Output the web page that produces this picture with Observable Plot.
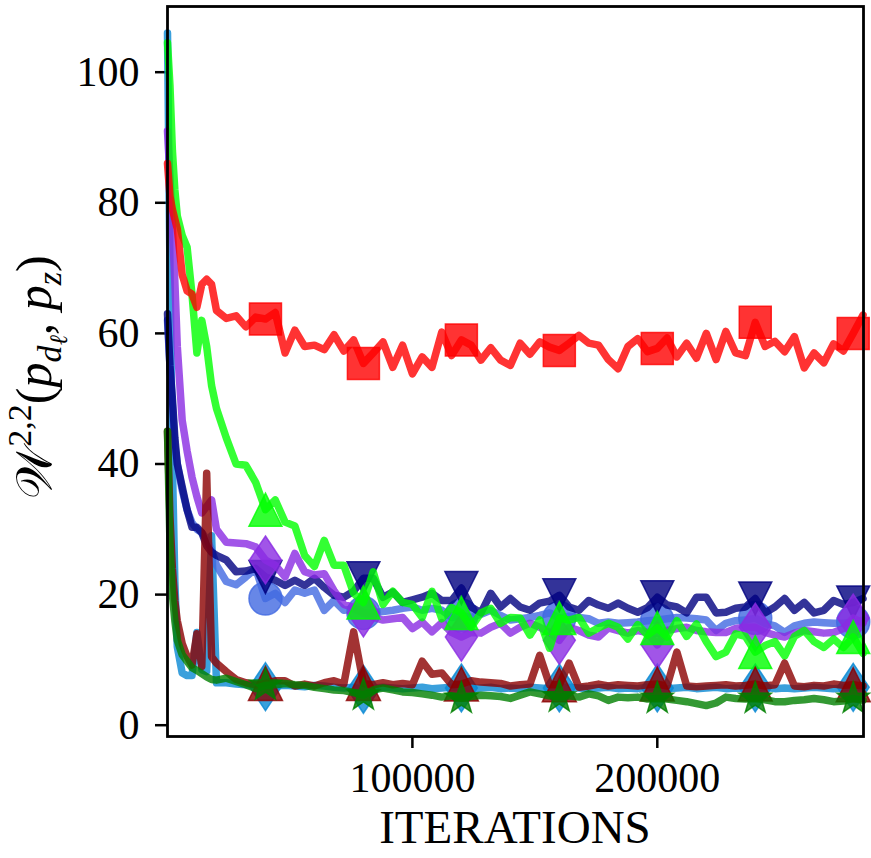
<!DOCTYPE html>
<html><head><meta charset="utf-8">
<script src="https://cdn.jsdelivr.net/npm/d3@7"></script>
<script src="https://cdn.jsdelivr.net/npm/@observablehq/plot@0.6"></script>
<style>
html,body{margin:0;padding:0;background:#fff;}
#chart svg{display:block;}
#chart svg g[aria-label$="axis tick"] path,
#chart svg g[aria-label$="axis"] line{stroke-width:2.5px;stroke:#000;}
</style></head><body><div id="chart"></div>
<script>
const ITERATIONS = [0,1000,2000,3000,4000,6000,8000,10000,12000,14000,16000,18000,20000,
 24000,28000,32000,36000,40000,44000,48000,52000,56000,60000,
 64000,68000,72000,76000,80000,84000,88000,92000,96000,100000,
 104000,108000,112000,116000,120000,124000,128000,132000,136000,140000,
 144000,148000,152000,156000,160000,164000,168000,172000,176000,180000,
 184000,188000,192000,196000,200000,204000,208000,212000,216000,220000,
 224000,228000,232000,236000,240000,244000,248000,252000,256000,260000,
 264000,268000,272000,276000,280000,284000];
const X_TICKS = [100000, 200000];
const Y_TICKS = [0, 20, 40, 60, 80, 100];
const X_LABEL = "ITERATIONS";
const MARKER_EVERY = 40000;

const RED = [86,81,79,77.5,76,69,66.5,66,64,67.5,68.3,67.5,63.5,
 62.3,62.7,61,62.5,62.2,63.2,57,60.5,58,58.2,
 57.5,59.8,57.3,59,55.4,57,58.7,54.8,58.2,53.8,
 56.4,54.8,60.2,56.6,59,58.2,55.9,57.8,55.9,55.1,
 58.5,56.8,58.7,57.9,57.4,58.5,59.7,58.5,58.2,56,
 54.6,58,59.2,57.2,57.7,59.3,56.4,58.5,56.2,60,
 56,60.3,57,56.6,61.7,58,58.8,57.2,59.5,54.7,
 57,55.5,58.4,57.3,60,62.8];
const LIME = [104.5,98,88,82,78,75,73.2,66,57,62,58,52,48.5,
 44,40,39.8,37.2,33,34.5,31.1,30.5,26,24.3,
 28.3,24.5,24.5,20.2,18.8,23.5,18.5,20.5,18.8,18.5,
 16.5,20.5,16.3,18,17.2,15,17.2,17.9,15.6,16.5,
 16.4,13.8,16.1,11.8,16.4,16.1,16.5,14.1,14.9,15.6,
 15,13.2,15.4,13.8,14.9,13.5,16,13.6,15.5,12.8,
 10.5,11.2,14,13.6,11.2,12.2,12.8,10.6,13.6,14.5,
 12.8,11.9,13.2,11.9,13.5,11];
const VIOLET = [91,84,76,68,58,46.7,42,38,35,32.5,33.5,34.5,30,
 28,27.9,27.8,27.3,25.3,24.5,22.7,26.3,23.5,23,
 23.2,20.6,18.5,18,17.2,16.5,16.1,16.3,16.5,14.8,
 15.8,14.3,15.7,14.2,13.5,14.2,14.1,15,15.6,14.1,
 15,15.6,15,14.2,13,15,14.5,13.8,13.5,14.9,
 14.5,14.1,14.5,14.2,12.3,14.5,14.8,15,14.5,14.3,
 14.2,14.2,14.8,15,15,14.2,13.8,13.5,14.1,14.5,
 14.3,14.1,14.2,14.8,16.4,15.6];
const NAVY = [63,55,50,44,40,36.5,33,30.3,30.3,29.5,27.5,26.5,26,
 25.3,23.5,23.6,24,22.7,22.2,21.4,22.2,21.4,22.5,
 21.1,19.9,19.6,20.5,22.5,22.5,19.6,20.4,18.8,19.2,
 19.6,20.2,19.1,19.1,21,18.1,17.2,20.2,18.1,19.4,
 18.1,17.6,18.7,19,19.9,18.1,17.6,19.1,18.4,17.9,
 18.7,17.9,17.3,18,19.6,18.4,18.1,17.2,19.6,19.6,
 17.2,17.3,17.9,18.1,19.4,17.2,18.1,19.4,17.6,18.8,
 17.2,17.6,19.1,18.5,18.8,19.4];
const ROYAL = [62,55,49,43,40,36,33,31,30,29.5,28.5,26.8,24.5,
 22,21.5,22.7,24,19.4,20.2,18.8,20.7,20.2,20.7,
 17.6,19.1,17.6,17.8,17.2,17.2,17.4,17.6,17.9,18.1,
 17.6,17.9,17.6,16.5,16.8,16.5,17,17.6,16.8,16.1,
 16.3,16.5,16.8,17.2,16.4,16.7,16.5,16.3,15.6,15.8,
 15.6,15.7,15.8,16,16.1,16.3,16.5,16.4,16.3,16.1,
 14.5,15.6,16,16.1,16.4,15.6,15.2,14.2,15.2,15.6,
 15.8,15.7,15.6,15.6,15.8,16.1];
const SKY = [106,70,40,22,12,8,7.6,7.6,14.2,8.5,8.2,29,6.5,
 6.5,6.3,6.2,6.1,5.9,6,6.1,6,5.9,6.1,
 6,5.8,5.7,5.8,5.5,5.7,5.8,5.7,5.6,5.7,
 5.8,5.6,5.7,5.8,5.7,5.6,5.7,5.8,5.6,5.7,
 5.6,5.8,5.7,5.6,5.7,5.8,5.7,5.6,5.7,5.8,
 5.6,5.7,5.6,5.8,5.7,5.6,5.7,5.8,5.6,5.7,
 5.8,5.6,5.7,5.6,5.7,5.8,5.6,5.7,5.6,5.7,
 5.8,5.7,5.6,5.7,5.8,5.7];
const MAROON = [45,32,24,19,16,12.5,10.5,9.2,14,9,38.6,10.5,9.5,
 8.2,7,6.5,6.2,6.4,6.8,6.8,6,6.3,6,
 6.5,6.8,6.3,14.3,6.4,6.2,6.5,6.2,6.4,6.2,
 9.8,7.8,8,6.2,6.3,6.8,6.6,6.5,6.4,6,
 6.2,6.3,10.7,6.2,6.2,9.5,5.8,6,6.3,6,
 6.2,6.1,6,6.2,6.3,6,11.2,6,5.9,6,
 6.1,6.2,6,6.1,6.3,6,6.2,9.5,6,5.9,
 6.1,6,6.3,6.1,6.2,6];
const GREEN = [45,28,20,16,13,10.8,9.8,8.8,8.4,7.9,7.4,7,6.9,
 7.2,6.7,6.2,5.6,6.1,6.2,6.4,6.2,6.1,5.8,
 5.6,5.4,5.3,5,4.6,5.4,5.7,5.4,5.1,5,
 4.8,4.6,4.3,4.5,4.1,4.4,4.6,4.5,4.4,4.1,
 4.6,5.1,4.8,4.5,4.3,4.5,4.3,4.8,4.5,3.8,
 4.3,4.2,4.3,4,4.1,4,3.8,3.6,3.3,3,
 3.4,4.3,4.1,4,4.1,3.9,3.6,3.6,3.8,3.9,
 4.1,3.9,3.6,3.7,4.1,3.8];

// marker shapes (custom symbols; r = half extent)
function sym(fn){ return {draw(c, size){ fn(c, Math.sqrt(size / Math.PI)); }}; }
const SQUARE = sym((c,r)=>{c.moveTo(-r,-r);c.lineTo(r,-r);c.lineTo(r,r);c.lineTo(-r,r);c.closePath();});
const TRI_UP = sym((c,r)=>{c.moveTo(0,-r);c.lineTo(r,r);c.lineTo(-r,r);c.closePath();});
const TRI_DOWN = sym((c,r)=>{c.moveTo(0,r);c.lineTo(r,-r);c.lineTo(-r,-r);c.closePath();});
const DIAMOND = sym((c,r)=>{c.moveTo(0,-1.5*r);c.lineTo(r,0);c.lineTo(0,1.5*r);c.lineTo(-r,0);c.closePath();});
const CIRCLE = sym((c,r)=>{c.moveTo(r,0);c.arc(0,0,r,0,2*Math.PI);c.closePath();});
const STAR = sym((c,r)=>{for(let i=0;i<10;i++){const a=-Math.PI/2+i*Math.PI/5;const rr=i%2?r*0.4:r;const px=rr*Math.cos(a),py=rr*Math.sin(a);i?c.lineTo(px,py):c.moveTo(px,py);}c.closePath();});

const SERIES = [
  {values: SKY,    color: "#0988d3", symbol: DIAMOND,  r: 16},
  {values: ROYAL,  color: "#4169e1", symbol: CIRCLE,   r: 16.5},
  {values: NAVY,   color: "#000080", symbol: TRI_DOWN, r: 16.5},
  {values: VIOLET, color: "#8a2be2", symbol: DIAMOND,  r: 16},
  {values: LIME,   color: "#00ff00", symbol: TRI_UP,   r: 16.5},
  {values: RED,    color: "#ff0000", symbol: SQUARE,   r: 16},
  {values: MAROON, color: "#8b0000", symbol: TRI_UP,   r: 17},
  {values: GREEN,  color: "#008000", symbol: STAR,     r: 17}
];

const marks = [];
for (const s of SERIES) {
  const data = ITERATIONS.map((x, i) => ({x, y: s.values[i]}));
  const markers = data.filter(d => d.x > 0 && d.x % MARKER_EVERY === 0);
  marks.push(Plot.line(data, {x: "x", y: "y", stroke: s.color, strokeOpacity: 0.8, strokeWidth: 7.5, strokeLinejoin: "round"}));
  marks.push(Plot.dot(markers, {x: "x", y: "y", r: s.r, symbol: s.symbol, fill: s.color, fillOpacity: 0.8, stroke: s.color, strokeOpacity: 0.8, strokeWidth: 1.5}));
}
marks.push(Plot.frame({stroke: "#000", strokeWidth: 2.8}));

const chart = Plot.plot({
  width: 871, height: 858,
  marginLeft: 167, marginRight: 8, marginTop: 6, marginBottom: 122,
  style: {fontFamily: "'Liberation Serif', serif", fontSize: "42px", background: "#fff", color: "#000", overflow: "visible"},
  x: {domain: [0, 284200], ticks: X_TICKS, tickFormat: d => String(d), tickSize: 12, tickPadding: 14, label: null},
  y: {domain: [-1.73, 110.06], ticks: Y_TICKS, tickFormat: d => String(d), tickSize: 12, tickPadding: 16, label: null},
  marks
});
document.getElementById("chart").appendChild(chart);

const svg = d3.select(chart);
svg.append("text")
  .attr("x", 515).attr("y", 843)
  .attr("text-anchor", "middle")
  .attr("font-family", "'Liberation Serif', serif")
  .attr("font-size", 47).attr("fill", "#000")
  .text(X_LABEL);

const yl = svg.append("text")
  .attr("transform", "translate(51,377) rotate(-90)")
  .attr("text-anchor", "middle")
  .attr("font-family", "'Liberation Serif', serif")
  .attr("font-size", 50).attr("fill", "#000");
yl.append("tspan").text("𝒲");
yl.append("tspan").attr("dy", -20).attr("font-size", 34).text("2,2");
yl.append("tspan").attr("dy", 20).text("(");
yl.append("tspan").attr("font-style", "italic").text("p");
yl.append("tspan").attr("dy", 10).attr("font-size", 34).attr("font-style", "italic").text("d");
yl.append("tspan").attr("dy", 6).attr("font-size", 25).attr("font-style", "italic").text("ℓ");
yl.append("tspan").attr("dy", -16).text(", ");
yl.append("tspan").attr("font-style", "italic").text("p");
yl.append("tspan").attr("dy", 10).attr("font-size", 34).attr("font-style", "italic").text("z");
yl.append("tspan").attr("dy", -10).text(")");
</script></body></html>
